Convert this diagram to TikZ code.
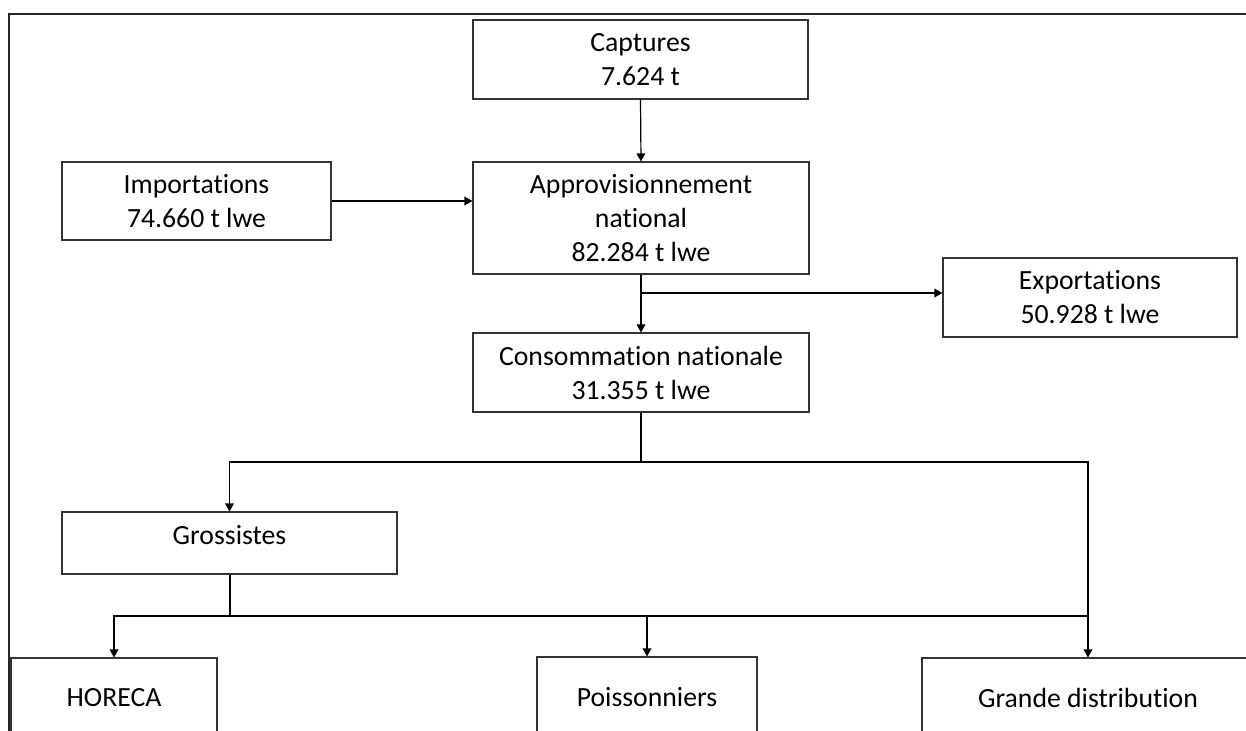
\documentclass[tikz,border=0pt]{standalone}
\usepackage{fontspec}
\setmainfont{Carlito}[RawFeature={-liga}]
\usetikzlibrary{arrows.meta}
\begin{document}
\begin{tikzpicture}[x=0.75pt,y=-0.75pt,
  box/.style={draw=black!80, line width=0.8pt, rectangle, inner sep=0pt, align=center,
    font=\fontsize{20.8}{25.5}\selectfont},
  txt/.style={inner sep=0pt, align=center, font=\fontsize{20.8}{25.5}\selectfont},
  conn/.style={draw=black, line width=0.9pt},
  arr/.style={conn, -{Triangle[length=6pt,width=6.5pt]}},
  thickconn/.style={draw=black, line width=1.5pt}
]
\useasboundingbox (0,0) rectangle (1246,731);
\clip (0,0) rectangle (1246,731);
\fill[white] (0,0) rectangle (1246,731);
% frame
\draw[line width=1.6pt, black!85] (9,732) -- (9,14) -- (1247,14);

\node[box, minimum width=251.25pt, minimum height=59.25pt] (cap) at (640.5,59.5) {Captures\\7.624 t};
\node[box, minimum width=252pt, minimum height=84pt] (app) at (641,218) {Approvisionnement\\national\\82.284 t lwe};
\node[box, minimum width=201.75pt, minimum height=58.5pt] (imp) at (196.5,201) {Importations\\74.660 t lwe};
\node[box, minimum width=220.5pt, minimum height=59.25pt] (exp) at (1090,297.5) {Exportations\\50.928 t lwe};
\node[box, minimum width=252pt, minimum height=59.25pt] (con) at (641,372.5) {Consommation nationale\\31.355 t lwe};
\node[box, minimum width=251.25pt, minimum height=46.5pt] (gro) at (229.5,543) {};
\node[txt] (grotxt) at (229.5,535) {Grossistes};
\node[box, minimum width=154.5pt, minimum height=60pt] (hor) at (114,698) {HORECA};
\node[box, minimum width=165pt, minimum height=60pt] (poi) at (647,697) {Poissonniers};
\node[box, minimum width=249pt, minimum height=60pt] (gd) at (1088,698) {Grande distribution};

\draw[arr] (cap.south) -- (app.north);
\draw[arr] (imp.east) -- (imp.east -| app.west);
\draw[arr] (app.south) -- (con.north);
\coordinate (j1) at (641,293);
\draw[arr] (j1) -- (j1 -| exp.west);
\coordinate (j2) at (641,462);
\draw[conn] (con.south) -- (j2);
\draw[arr] (j2) -| (gro.north);
\draw[arr] (j2) -| (gd.north);
\coordinate (j3) at (229.5,616);
\draw[thickconn] (gro.south) -- (j3);
\draw[thickconn] (hor.north |- j3) -- (poi.north |- j3);
\draw[arr] (j3) -| (hor.north);
\draw[arr] (j3) -| (poi.north);
\draw[conn] (poi.north |- j3) -- (gd.north |- j3);
\end{tikzpicture}
\end{document}
